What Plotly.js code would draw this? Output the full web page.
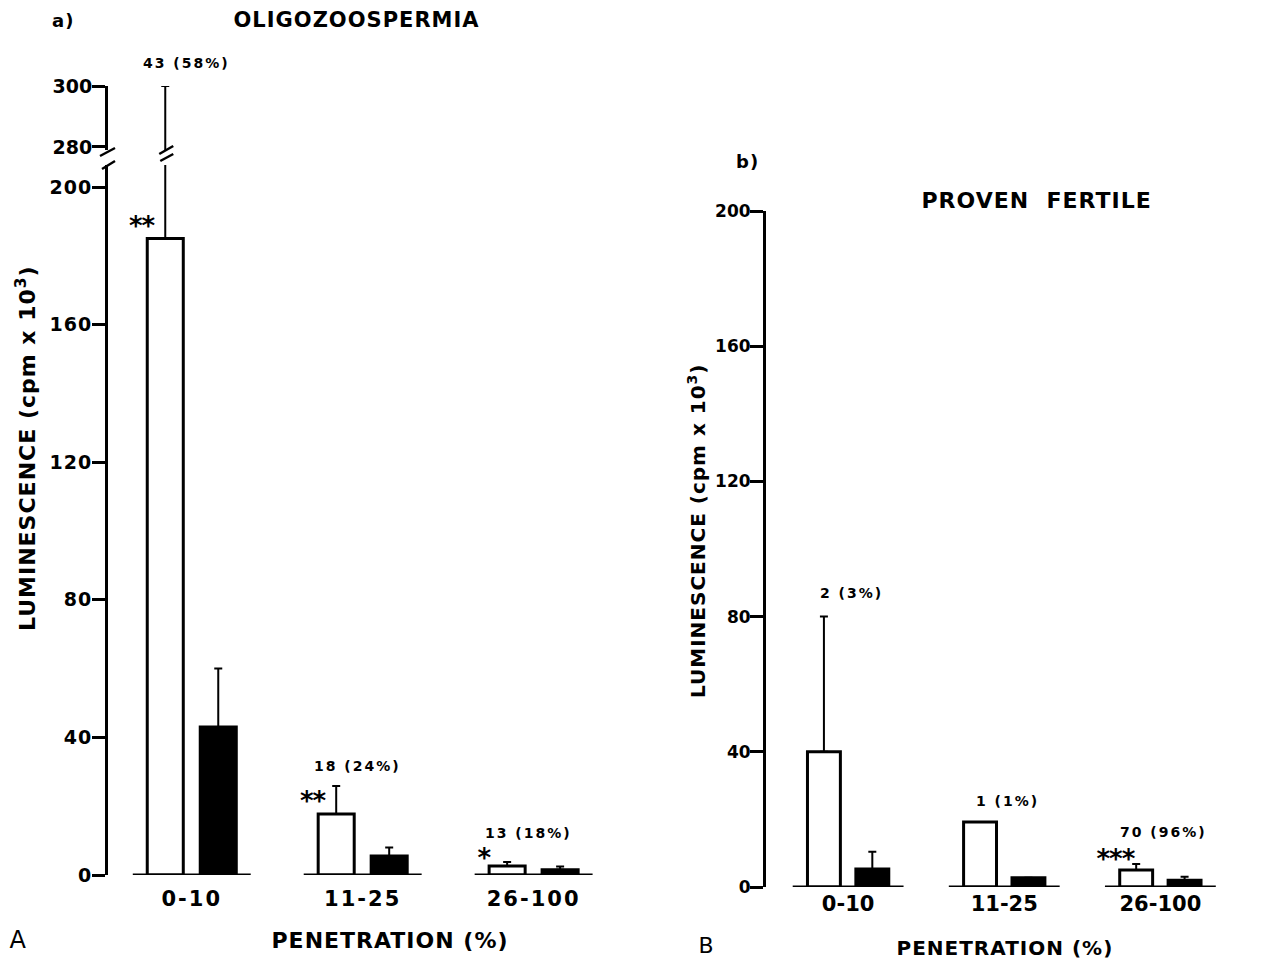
<!DOCTYPE html>
<html>
<head>
<meta charset="utf-8">
<script src="https://cdn.plot.ly/plotly-3.0.1.min.js"></script>
<style>
html,body{margin:0;padding:0;background:#fff;}
#chart{width:1261px;height:962px;}
#chart .annotation-text{letter-spacing:1px;}
#chart .annotation-text[data-unformatted$="%)"]:not([data-unformatted^="PEN"]){letter-spacing:2px;}
#chart .annotation-text[data-unformatted^="*"]{letter-spacing:-1px;}
#chart .xtick text{letter-spacing:2px;}
#chart .ytick text{letter-spacing:1px;}
</style>
</head>
<body>
<div id="chart"></div>
<script>
// ---- data ----
const categories = ["0-10", "11-25", "26-100"];
// Panel a: oligozoospermia
const aWhite = [185, 17.7, 2.6];
const aWhiteErr = [115, 8.2, 1.2];
const aBlack = [43, 5.5, 1.5];
const aBlackErr = [17, 2.5, 1.0];
const aCounts = ["43 (58%)", "18 (24%)", "13 (18%)"];
const aStars = ["**", "**", "*"];
// Panel b: proven fertile
const bWhite = [40, 19.2, 5];
const bWhiteErr = [40, 0, 1.8];
const bBlack = [5.3, 2.7, 2];
const bBlackErr = [5.1, 0, 1.0];
const bCounts = ["2 (3%)", "1 (1%)", "70 (96%)"];
const bStars = ["", "", "***"];
const yTicksLower = [0, 40, 80, 120, 160, 200];
const yTicksUpper = [280, 300];

const W = 1261, H = 962;
const FONT = "DejaVu Sans, Verdana, sans-serif";
const idx = categories.map((c, i) => i);

function barTrace(vals, errs, fill, xa, ya, name) {
  return {
    type: "bar", x: idx, y: vals, xaxis: xa, yaxis: ya, name: name,
    marker: {color: fill, line: {color: "#000", width: 3}},
    error_y: {type: "data", symmetric: false, array: errs, arrayminus: vals.map(() => 0),
              color: "#000", thickness: 2, width: 4},
    hoverinfo: "skip", showlegend: false
  };
}

const data = [
  barTrace(aWhite, aWhiteErr, "#fff", "x", "y", "a white"),
  barTrace(aBlack, aBlackErr, "#000", "x", "y", "a black"),
  barTrace(aWhite, aWhiteErr, "#fff", "x", "y2", "a white upper"),
  barTrace(aBlack, aBlackErr, "#000", "x", "y2", "a black upper"),
  barTrace(bWhite, bWhiteErr, "#fff", "x3", "y3", "b white"),
  barTrace(bBlack, bBlackErr, "#000", "x3", "y3", "b black")
];

function fnt(size) { return {family: FONT, size: size, color: "#000", weight: "bold"}; }
function xAxis(domainPx, range, anchor, standoff) {
  return {domain: [domainPx[0] / W, domainPx[1] / W], range: range, anchor: anchor,
    showline: false, showgrid: false, zeroline: false, ticks: "",
    tickvals: idx, ticktext: categories, tickfont: fnt(21), ticklabelstandoff: standoff, fixedrange: true};
}
function yAxis(domainPx, range, tickvals, anchorX, size) {
  return {domain: [1 - domainPx[0] / H, 1 - domainPx[1] / H], range: range, anchor: anchorX,
    showline: true, linecolor: "#000", linewidth: 3, showgrid: false, zeroline: false,
    ticks: "outside", ticklen: 13, tickwidth: 3, tickcolor: "#000",
    tickvals: tickvals, tickfont: fnt(size), ticklabelstandoff: -4, fixedrange: true};
}

const aDomX = [108, 602], bDomX = [766, 1240];
const aRange = [-0.49, 2.4];
const bRange = [-0.526, 2.51];

const layout = {
  width: W, height: H,
  margin: {l: 0, r: 0, t: 0, b: 0},
  paper_bgcolor: "#fff", plot_bgcolor: "rgba(0,0,0,0)",
  barmode: "group",
  bargap: 0.38, bargroupgap: 0.32,
  showlegend: false,
  xaxis: xAxis(aDomX, aRange, "y", 9),
  yaxis: yAxis([875, 165], [0, 206.4], yTicksLower, "x", 19),
  yaxis2: yAxis([150, 86], [279, 300], yTicksUpper, "x", 19),
  xaxis3: xAxis(bDomX, bRange, "y3", 2),
  yaxis3: yAxis([887, 211], [0, 200], yTicksLower, "x3", 17),
  shapes: [],
  annotations: []
};

// baselines for each category group
idx.forEach(i => {
  layout.shapes.push({type: "line", xref: "x", yref: "y", x0: i - 0.345, x1: i + 0.345, y0: 0, y1: 0,
    line: {color: "#000", width: 3}});
  layout.shapes.push({type: "line", xref: "x3", yref: "y3", x0: i - 0.355, x1: i + 0.355, y0: 0, y1: 0,
    line: {color: "#000", width: 3}});
});

// axis break marks (drawn in paper space, on the y axis and on the broken error bar)
const whiteOffsetA = -0.155;
const toPx = v => aDomX[0] + (v - aRange[0]) / (aRange[1] - aRange[0]) * (aDomX[1] - aDomX[0]);
function slash(cx, dx0, py0, dx1, py1) {
  layout.shapes.push({type: "line", xref: "paper", yref: "paper",
    x0: (cx + dx0) / W, x1: (cx + dx1) / W, y0: 1 - py0 / H, y1: 1 - py1 / H,
    line: {color: "#000", width: 2.5}});
}
const axisPx = toPx(aRange[0]);
slash(axisPx, -8, 156, 7, 148);
slash(axisPx, -6, 169, 7, 161);
const ebPx = toPx(0 + whiteOffsetA);
slash(ebPx, -6, 154, 8, 146);
slash(ebPx, -5, 161, 8, 154);

const countFont = fnt(14);
const starFont = fnt(26);

// count labels panel a
const aCountShift = [13, 10, 19];
const aStarShift = [13, 13, 8];
idx.forEach(i => {
  const top = aWhite[i] + aWhiteErr[i];
  const upper = top > 206.4;
  layout.annotations.push({text: aCounts[i], xref: "x", yref: upper ? "y2" : "y",
    x: i - 0.03, y: top, yanchor: "bottom", yshift: aCountShift[i], showarrow: false, font: countFont});
  if (aStars[i]) layout.annotations.push({text: aStars[i], xref: "x", yref: "y",
    x: i - 0.29, y: aWhite[i], yanchor: "middle", yshift: aStarShift[i], showarrow: false, font: starFont});
});
// count labels panel b
const bCountShift = [14, 11, 22];
idx.forEach(i => {
  const top = Math.max(bWhite[i] + bWhiteErr[i], bBlack[i] + bBlackErr[i]);
  layout.annotations.push({text: bCounts[i], xref: "x3", yref: "y3",
    x: i + 0.02, y: top, yanchor: "bottom", yshift: bCountShift[i], showarrow: false, font: countFont});
  if (bStars[i]) layout.annotations.push({text: bStars[i], xref: "x3", yref: "y3",
    x: i - 0.29, y: bWhite[i], yanchor: "middle", yshift: 11, showarrow: false, font: starFont});
});

function paperText(text, px, py, size, extra, weight) {
  return Object.assign({text: text, xref: "paper", yref: "paper", x: px / W, y: 1 - py / H,
    xanchor: "center", yanchor: "middle", showarrow: false,
    font: {family: FONT, size: size, color: "#000", weight: weight || "bold"}}, extra || {});
}
layout.annotations.push(
  paperText("a)", 63, 20, 18),
  paperText("OLIGOZOOSPERMIA", 357, 20, 21),
  paperText("b)", 747, 162, 18),
  paperText("PROVEN  FERTILE", 1036, 201, 22),
  paperText("LUMINESCENCE (cpm x 10<sup>3</sup>)", 26, 448, 22, {textangle: -90}),
  paperText("LUMINESCENCE (cpm x 10<sup>3</sup>)", 697, 531, 20, {textangle: -90}),
  paperText("PENETRATION (%)", 390, 940, 22),
  paperText("PENETRATION (%)", 1005, 948, 20),
  paperText("A", 18, 940, 24, {}, "normal"),
  paperText("B", 706, 945, 22, {}, "normal")
);

Plotly.newPlot("chart", data, layout, {displayModeBar: false, staticPlot: true});
</script>
</body>
</html>
